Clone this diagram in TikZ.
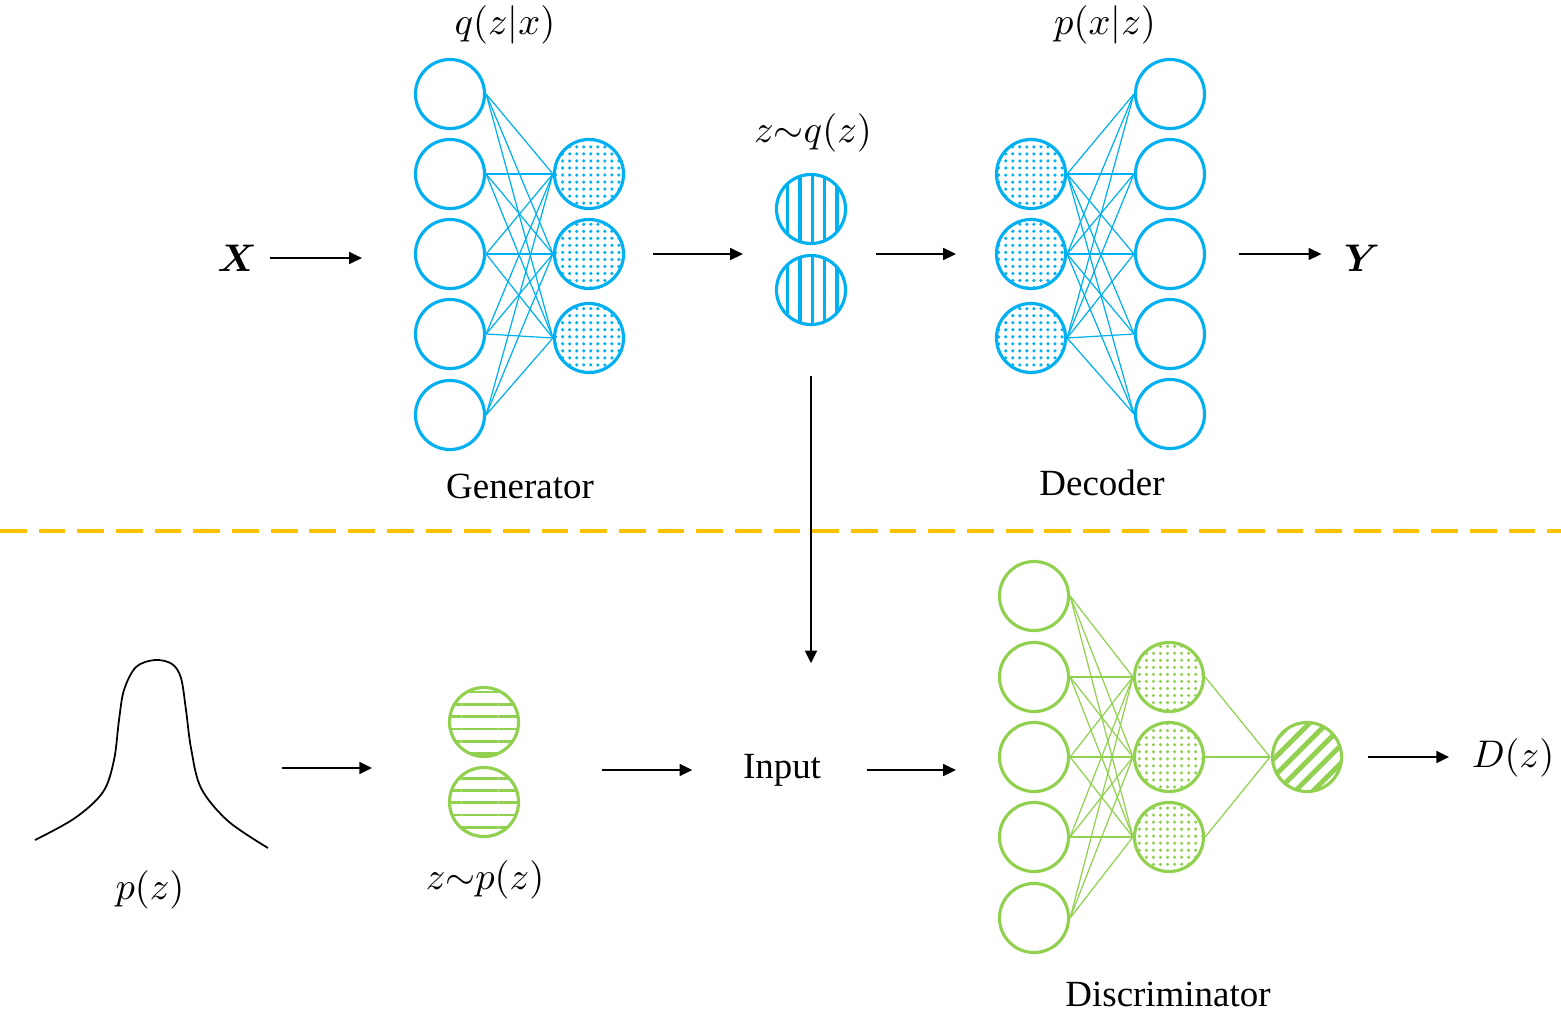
\documentclass[tikz,border=0pt]{standalone}
\usepackage{amsmath}
\usepackage{fontspec}
\setmainfont{Liberation Serif}
\usetikzlibrary{arrows.meta,patterns.meta}
\usepackage{xcolor}
\definecolor{encblue}{HTML}{00B0F0}
\definecolor{discgreen}{HTML}{92D050}
\definecolor{splitorange}{HTML}{FFC000}

\begin{document}
\begin{tikzpicture}[x=0.01cm, y=-0.01cm,
    every node/.style={font=\fontsize{10.5}{12.6}\selectfont, inner sep=0pt},
    neuron/.style={circle, line width=0.9pt, minimum size=0.69cm},
    enc/.style={neuron, draw=encblue, pattern color=encblue},
    disc/.style={neuron, draw=discgreen, pattern color=discgreen},
    dotfill/.style={pattern={Dots[distance=2pt, radius=0.5pt]}},
    vfill/.style={pattern={Lines[angle=90, distance=3.5pt, line width=0.9pt]}},
    hfill/.style={pattern={Lines[angle=0, distance=3.5pt, line width=0.8pt]}},
    sfill/.style={pattern={Lines[angle=45, distance=3.6pt, line width=1.4pt]}},
    wire/.style={line width=0.35pt},
    flow/.style={-{Triangle[length=3.6pt, width=3.4pt]}, line width=0.5pt}]
    \useasboundingbox (0,0) rectangle (1561,1012);

    % generator q(z|x)
    \foreach \i/\y in {1/94,2/174,3/254,4/334,5/415}
        \node[enc] (G\i) at (450,\y) {};
    \foreach \i/\y in {1/174,2/254,3/338}
        \node[enc, dotfill] (H\i) at (589,\y) {};
    \foreach \i in {1,...,5}
        \foreach \j in {1,2,3}
            \draw[wire, encblue] (G\i.east) -- (H\j.west);

    % latent code
    \node[enc, vfill] (Q1) at (811,209) {};
    \node[enc, vfill] (Q2) at (811,290) {};

    % decoder p(x|z)
    \foreach \i/\y in {1/174,2/254,3/338}
        \node[enc, dotfill] (E\i) at (1031,\y) {};
    \foreach \i/\y in {1/94,2/174,3/254,4/334,5/414}
        \node[enc] (F\i) at (1170,\y) {};
    \foreach \i in {1,2,3}
        \foreach \j in {1,...,5}
            \draw[wire, encblue] (E\i.east) -- (F\j.west);

    % labels top
    \node (X) at (237,258) {$\boldsymbol{X}$};
    \node (Y) at (1362,258) {$\boldsymbol{Y}$};
    \node (qzx) at (505,25) {$q(z|x)$};
    \node (zq) at (813,133) {$z{\sim}q(z)$};
    \node (pxz) at (1105,25) {$p(x|z)$};
    \node (gen) at (520,486) {Generator};
    \node (dec) at (1102,483) {Decoder};

    \draw[flow, shorten <=0.13cm, shorten >=0.52cm] (X.east) -- (X.east -| G3.west);
    \draw[flow, shorten <=0.28cm, shorten >=0.32cm] (H2.east) -- (H2.east -| Q1.west);
    \draw[flow, shorten <=0.29cm, shorten >=0.39cm] (E2.west -| Q1.east) -- (E2.west);
    \draw[flow, shorten <=0.33cm, shorten >=0.22cm] (F3.east) -- (F3.east -| Y.west);

    % separator
    \draw[splitorange, line width=1.1pt, dash pattern=on 7.6pt off 3.4pt] (0,531) -- (1561,531);

    % prior p(z)
    \draw[line width=0.5pt] plot[smooth, tension=0.55] coordinates {(35,840) (75,818) (103,792) (114,760) (119,720) (124,690) (136,667) (155,660) (172,664) (181,678) (186,710) (191,748) (201,788) (228,821) (268,848)};
    \coordinate (bell) at (268,768);
    \node (pz) at (150,890) {$p(z)$};

    \node[disc, hfill] (P1) at (484,722) {};
    \node[disc, hfill] (P2) at (484,802) {};
    \node (zp) at (485,880) {$z{\sim}p(z)$};

    \node (In) at (782,770) {Input};

    % discriminator D(z)
    \foreach \i/\y in {1/596,2/677,3/757,4/837,5/918}
        \node[disc] (K\i) at (1034,\y) {};
    \foreach \i/\y in {1/677,2/757,3/837}
        \node[disc, dotfill] (L\i) at (1169,\y) {};
    \node[disc, sfill] (M) at (1307,757) {};
    \foreach \i in {1,...,5}
        \foreach \j in {1,2,3}
            \draw[wire, discgreen] (K\i.east) -- (L\j.west);
    \foreach \j in {1,2,3}
        \draw[wire, discgreen] (L\j.east) -- (M.west);
    \node (Dz) at (1513,758) {$D(z)$};
    \node (dis) at (1168,994) {Discriminator};

    \draw[flow, shorten <=0.14cm, shorten >=0.76cm] (bell) -- (bell -| P1.west);
    \draw[flow, shorten <=0.82cm, shorten >=0.50cm] (P1.east |- In.west) -- (In.west);
    \draw[flow, shorten <=0.45cm, shorten >=0.42cm] (In.east) -- (In.east -| K3.west);
    \draw[flow, shorten <=0.24cm, shorten >=0.22cm] (M.east) -- (M.east -| Dz.west);
    \draw[flow, shorten <=0.50cm, shorten >=0.90cm] (Q2.south) -- (Q2.south |- In.north);
\end{tikzpicture}
\end{document}
